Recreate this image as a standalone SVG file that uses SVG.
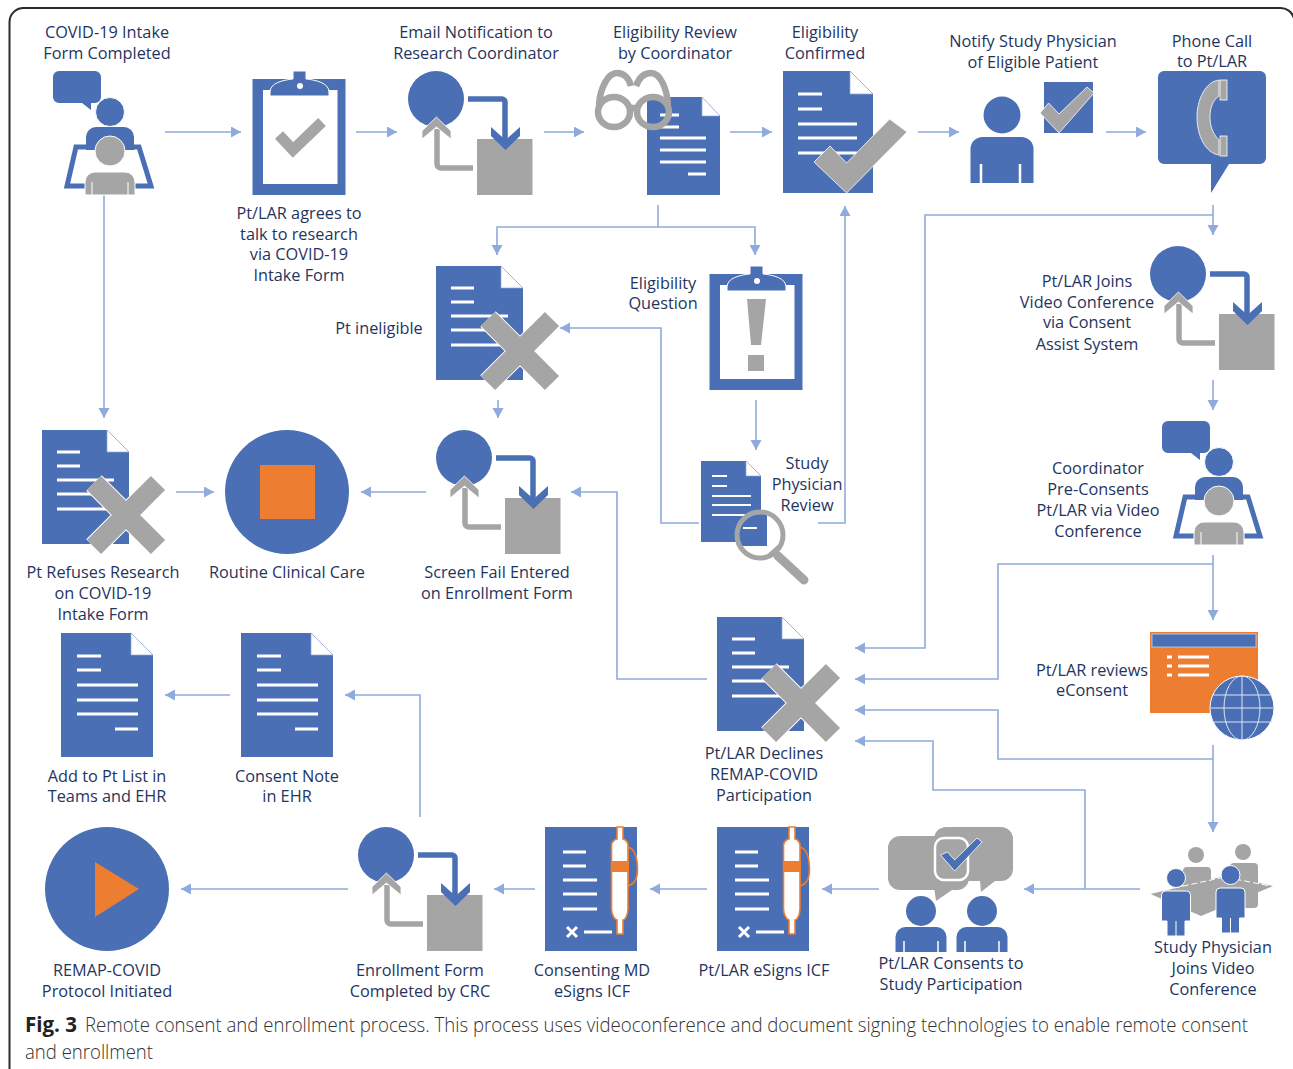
<svg xmlns="http://www.w3.org/2000/svg" width="1293" height="1069" viewBox="0 0 1293 1069">
<style>
.t{font-family:"Open Sans","Noto Sans","Liberation Sans",sans-serif;font-size:16.3px;fill:#1f3560;text-anchor:middle;transform:translateY(.8px)}
.c{font-family:"Open Sans","Noto Sans","Liberation Sans",sans-serif;font-size:20.5px;font-weight:300;fill:#333}
.f{font-family:"Open Sans","Noto Sans","Liberation Sans",sans-serif;font-size:20.5px;font-weight:700;fill:#222}
.b{fill:#4a6fb5}.g{fill:#a5a5a5}.o{fill:#ed7d31}
.w{stroke:#fff;stroke-linecap:butt;fill:none}
#conn path{fill:none;stroke:#8faadc;stroke-width:1.6}
</style>
<defs>
<marker id="ah" markerUnits="userSpaceOnUse" markerWidth="12" markerHeight="12" refX="10" refY="5.5" orient="auto"><path d="M0,0L10,5.5L0,11Z" fill="#8faadc"/></marker>
<clipPath id="lens"><circle cx="760" cy="535" r="23"/></clipPath>
<g id="flow">
<rect class="g" x="69" y="68" width="55.5" height="56"/>
<circle class="b" cx="28" cy="28" r="28"/>
<path d="M60,28H94a3,3 0 0 1 3,3V70" fill="none" stroke="#4a6fb5" stroke-width="5.5"/>
<path class="b" d="M83,56L97.5,69L112,56V65L97.5,79L83,65Z"/>
<path d="M65,97H33a4,4 0 0 1-4-4V58" fill="none" stroke="#a5a5a5" stroke-width="5.5"/>
<path class="g" stroke="#fff" stroke-width=".8" d="M28.400,46L43,60V68L28.400,56L14,68V60Z"/>
</g>
<g id="desk">
<path class="b" d="M53,77a6,6 0 0 1 6-6H95a6,6 0 0 1 6,6V97a6,6 0 0 1-6,6H91V110L82,103H59a6,6 0 0 1-6-6Z"/>
<circle class="b" cx="110" cy="112" r="14.500" stroke="#fff" stroke-width="1"/>
<path class="b" d="M86,150V137a10,10 0 0 1 10-10H124a10,10 0 0 1 10,10V150Z"/>
<path d="M76,147H139L151,186H67Z" fill="none" stroke="#4a6fb5" stroke-width="5"/>
<circle class="g" cx="110" cy="151" r="15" stroke="#fff" stroke-width="1"/>
<path class="g" d="M85,195V182a10,10 0 0 1 10-10H125a10,10 0 0 1 10,10V195Z" stroke="#fff" stroke-width="1"/>
<path class="w" d="M92,182V195M128,182V195"/>
</g>
<g id="clip">
<rect class="b" x="252.500" y="79" width="93" height="116"/>
<rect x="263" y="90" width="74.500" height="94" fill="#fff"/>
<path class="b" stroke="#fff" stroke-width="1" d="M270,96V92C270,83 283,80 293,79V71H306V79C316,80 329,83 329,92V96Z"/>
<circle cx="300" cy="86" r="3" fill="#fff"/>
</g>
<g id="doc">
<path class="b" d="M0,0H65L87,22V114H0Z"/>
<path d="M65,0L87,22H65Z" fill="#fff" stroke="#8faadc" stroke-width=".7"/>
<path class="w" stroke-width="3" d="M15,22H38M15,36H38M15,50H72M15,64H72M15,79H72"/>
</g>
<g id="xmark">
<path stroke="#fff" stroke-width="22" d="M-32,-32L32,32M32,-32L-32,32"/>
<path stroke="#a5a5a5" stroke-width="20" d="M-32,-32L32,32M32,-32L-32,32"/>
</g>
<g id="doc2">
<path class="b" d="M0,0H70L92,22V124H0Z"/>
<path d="M70,0L92,22H70Z" fill="#fff" stroke="#8faadc" stroke-width=".7"/>
<path class="w" stroke-width="3" d="M16,23H40M16,37H40M16,52H77M16,67H77M16,81H77M54,96H77"/>
</g>
<g id="sign">
<rect class="b" x="0" y="0" width="92" height="124"/>
<path class="w" stroke-width="3" d="M18,25H41M18,39H41M18,53H52M18,67H52M18,82H52"/>
<path class="w" stroke-width="3" d="M22,100L32,110M32,100L22,110M39,105H67"/>
<path d="M83,20C90,22 92.500,32 92.500,43C92.500,52 90,57 83,59Z" class="b" stroke="#ed7d31" stroke-width="1.600"/>
<path d="M72,0H78V12C80,12 83,15 83,18V82C83,88 80,93 78,93V107H72V93C70,93 66.500,88 66.500,82V18C66.500,15 70,12 72,12Z" fill="#fff" stroke="#ed7d31" stroke-width="1.600"/>
<rect class="o" x="66.500" y="34" width="17" height="11"/>
</g>
<g id="person">
<circle class="b" cx="0" cy="0" r="15"/>
<path class="b" d="M-25.500,41V26a10,10 0 0 1 10-10H15.500a10,10 0 0 1 10,10V41Z"/>
<path class="w" stroke-width="1.500" d="M-17,30V41M17,30V41"/>
</g>
<g id="mini">
<circle class="b" stroke="#fff" cx="0" cy="0" r="9.500"/>
<path class="b" stroke="#fff" d="M-14.500,43V17a4,4 0 0 1 4-4H10.500a4,4 0 0 1 4,4V43H9V58H-9V43Z"/>
<path class="w" d="M0,43V58"/>
</g>
</defs>
<rect width="1293" height="1069" fill="#fff"/>
<path d="M9.500,1070V22a14,14 0 0 1 14-14H1280a14,14 0 0 1 14,10" fill="none" stroke="#2a2a2a" stroke-width="2"/>
<g id="conn">
<path d="M165,132H241" marker-end="url(#ah)"/>
<path d="M356,132H397" marker-end="url(#ah)"/>
<path d="M544,132H584" marker-end="url(#ah)"/>
<path d="M730,132H772" marker-end="url(#ah)"/>
<path d="M918,132H959" marker-end="url(#ah)"/>
<path d="M1106,132H1146" marker-end="url(#ah)"/>
<path d="M104,195V418" marker-end="url(#ah)"/>
<path d="M658,205V227"/>
<path d="M658,227H497V255" marker-end="url(#ah)"/>
<path d="M658,227H755V255" marker-end="url(#ah)"/>
<path d="M756,400V450" marker-end="url(#ah)"/>
<path d="M699,523H661V328H560" marker-end="url(#ah)"/>
<path d="M818,523H845V206" marker-end="url(#ah)"/>
<path d="M1213,205V235" marker-end="url(#ah)"/>
<path d="M1213,215H925V648H855" marker-end="url(#ah)"/>
<path d="M1213,380V410" marker-end="url(#ah)"/>
<path d="M1213,555V620" marker-end="url(#ah)"/>
<path d="M1213,564H998V679H855" marker-end="url(#ah)"/>
<path d="M1213,759H998V710H855" marker-end="url(#ah)"/>
<path d="M1213,745V832" marker-end="url(#ah)"/>
<path d="M1140,889H1024" marker-end="url(#ah)"/>
<path d="M1085,889V790H933V741H855" marker-end="url(#ah)"/>
<path d="M498,400V418" marker-end="url(#ah)"/>
<path d="M426,492H361" marker-end="url(#ah)"/>
<path d="M176,492H214" marker-end="url(#ah)"/>
<path d="M707,679H617V492H571" marker-end="url(#ah)"/>
<path d="M230,695H165" marker-end="url(#ah)"/>
<path d="M420,817V695H345" marker-end="url(#ah)"/>
<path d="M348,889H181" marker-end="url(#ah)"/>
<path d="M535,889H494" marker-end="url(#ah)"/>
<path d="M707,889H650" marker-end="url(#ah)"/>
<path d="M879,889H822" marker-end="url(#ah)"/>
</g>
<g id="n-intake">
<use href="#desk"/>
<text class="t" x="107" y="37">COVID-19 Intake</text><text class="t" x="107" y="58">Form Completed</text>
</g>
<g id="n-agrees">
<use href="#clip"/>
<path d="M279,135L293,150L322,122" fill="none" stroke="#a5a5a5" stroke-width="11"/>
<text class="t" x="299" y="218">Pt/LAR agrees to</text><text class="t" x="299" y="239">talk to research</text><text class="t" x="299" y="259">via COVID-19</text><text class="t" x="299" y="280">Intake Form</text>
</g>
<g id="n-email">
<use href="#flow" x="408" y="71"/>
<text class="t" x="476" y="37">Email Notification to</text><text class="t" x="476" y="58">Research Coordinator</text>
</g>
<g id="n-review">
<path class="b" d="M647,97H702L720,116V195H647Z"/>
<path d="M702,97L720,116H702Z" fill="#fff" stroke="#8faadc" stroke-width=".7"/>
<path class="w" stroke-width="3" d="M660,115H679M660,127H679M660,138H706M660,150H706M660,162H706M688,174H706"/>
<g fill="none" stroke="#a5a5a5" stroke-width="6.500">
<ellipse cx="614" cy="112" rx="16" ry="15"/><ellipse cx="653" cy="112" rx="16" ry="15"/>
<path d="M599,105C600,88 608,73 617,73C624,73 629,78 631,86"/>
<path d="M668,105C667,88 660,73 651,73C644,73 639,78 636,86"/>
<path d="M630,108H637"/>
</g>
<text class="t" x="675" y="37">Eligibility Review</text><text class="t" x="675" y="58">by Coordinator</text>
</g>
<g id="n-confirmed">
<path class="b" d="M783,71H850L873,94V193H783Z"/>
<path d="M850,71L873,94H850Z" fill="#fff" stroke="#8faadc" stroke-width=".7"/>
<path class="w" stroke-width="3" d="M798,94H822M798,109H822M798,124H857M798,138H857M798,153H857"/>
<path class="g" stroke="#fff" stroke-width=".8" d="M814,162L830,146L846.600,163L889.600,119L907,132L846.600,193Z"/>
<text class="t" x="825" y="37">Eligibility</text><text class="t" x="825" y="58">Confirmed</text>
</g>
<g id="n-notify">
<circle class="b" cx="1002" cy="115" r="18.500"/>
<path class="b" d="M970.500,183V149a12,12 0 0 1 12-12H1021.500a12,12 0 0 1 12,12V183Z"/>
<path class="w" stroke-width="2.500" d="M981,164V183M1020,164V183"/>
<rect class="b" x="1044" y="82" width="49" height="51"/>
<path class="g" stroke="#fff" stroke-width=".8" d="M1040,113L1048.600,103L1059,114L1087,87L1094,93L1059,133Z"/>
<text class="t" x="1033" y="46">Notify Study Physician</text><text class="t" x="1033" y="67">of Eligible Patient</text>
</g>
<g id="n-phone">
<path class="b" d="M1158,77a6,6 0 0 1 6-6H1260a6,6 0 0 1 6,6V158a6,6 0 0 1-6,6H1229L1211,193V164H1164a6,6 0 0 1-6-6Z"/>
<path class="g" stroke="#fff" stroke-width=".8" d="M1219,80C1205,82 1197,100 1197,117C1197,135 1205,153 1219,155V140C1212,133 1210,125 1210,117C1210,109 1212,101 1219,96Z"/>
<rect class="g" stroke="#fff" stroke-width=".8" x="1220" y="80" width="7" height="20"/>
<rect class="g" stroke="#fff" stroke-width=".8" x="1220" y="136" width="7" height="20"/>
<text class="t" x="1212" y="46">Phone Call</text><text class="t" x="1212" y="66">to Pt/LAR</text>
</g>
<g id="n-ineligible">
<use href="#doc" x="436" y="266"/>
<use href="#xmark" x="520" y="351"/>
<text class="t" x="379" y="333">Pt ineligible</text>
</g>
<g id="n-question">
<use href="#clip" x="457" y="195"/>
<path class="g" d="M747,299H766L761,345H751Z"/><rect class="g" x="748" y="355" width="16" height="16"/>
<text class="t" x="663" y="288">Eligibility</text><text class="t" x="663" y="308">Question</text>
</g>
<g id="n-physician-review">
<path class="b" d="M701,461H746L761,476V542H701Z"/>
<path d="M746,461L761,476H746Z" fill="#fff" stroke="#8faadc" stroke-width=".7"/>
<path class="w" stroke-width="2" d="M712,476H727M712,486H727M712,496H751M712,505H751M712,515H751"/>
<circle cx="760" cy="535" r="23" fill="#fff"/>
<rect class="b" x="735" y="510" width="32" height="36" clip-path="url(#lens)"/>
<path class="w" stroke-width="2" d="M743,528H757"/>
<circle cx="760" cy="535" r="23" fill="none" stroke="#a5a5a5" stroke-width="5"/>
<path d="M769,556L779,547" stroke="#a5a5a5" stroke-width="5" fill="none"/>
<path d="M778,556L804,580" stroke="#a5a5a5" stroke-width="9" stroke-linecap="round" fill="none"/>
<text class="t" x="807" y="468">Study</text><text class="t" x="807" y="489">Physician</text><text class="t" x="807" y="510">Review</text>
</g>
<g id="n-joins">
<use href="#flow" x="1150" y="246"/>
<text class="t" x="1087" y="286">Pt/LAR Joins</text><text class="t" x="1087" y="307">Video Conference</text><text class="t" x="1087" y="327">via Consent</text><text class="t" x="1087" y="349">Assist System</text>
</g>
<g id="n-refuses">
<use href="#doc" x="42" y="430"/>
<use href="#xmark" x="126" y="515"/>
<text class="t" x="103" y="577">Pt Refuses Research</text><text class="t" x="103" y="598">on COVID-19</text><text class="t" x="103" y="619">Intake Form</text>
</g>
<g id="n-routine">
<circle class="b" cx="287" cy="492" r="62"/><rect class="o" x="260" y="465" width="55" height="54"/>
<text class="t" x="287" y="577">Routine Clinical Care</text>
</g>
<g id="n-screenfail">
<use href="#flow" x="436" y="430"/>
<text class="t" x="497" y="577">Screen Fail Entered</text><text class="t" x="497" y="598">on Enrollment Form</text>
</g>
<g id="n-preconsent">
<use href="#desk" x="1109" y="350"/>
<text class="t" x="1098" y="473">Coordinator</text><text class="t" x="1098" y="494">Pre-Consents</text><text class="t" x="1098" y="515">Pt/LAR via Video</text><text class="t" x="1098" y="536">Conference</text>
</g>
<g id="n-addlist">
<use href="#doc2" x="61" y="633"/>
<text class="t" x="107" y="781">Add to Pt List in</text><text class="t" x="107" y="801">Teams and EHR</text>
</g>
<g id="n-note">
<use href="#doc2" x="241" y="633"/>
<text class="t" x="287" y="781">Consent Note</text><text class="t" x="287" y="801">in EHR</text>
</g>
<g id="n-declines">
<use href="#doc" x="717" y="617"/>
<use href="#xmark" x="801" y="703"/>
<text class="t" x="764" y="758">Pt/LAR Declines</text><text class="t" x="764" y="779">REMAP-COVID</text><text class="t" x="764" y="800">Participation</text>
</g>
<g id="n-econsent">
<rect class="o" x="1150" y="632" width="108" height="81"/>
<rect class="b" x="1152" y="634" width="104" height="13" stroke="#c9d4ea" stroke-width=".8"/>
<path class="w" stroke-width="3.200" d="M1167,657H1172M1178,657H1209M1167,666H1172M1178,666H1209M1167,675H1172M1178,675H1209"/>
<circle class="b" cx="1242" cy="708" r="32" stroke="#fff" stroke-width="1"/>
<g fill="none" stroke="#dfe6f3" stroke-width="1"><ellipse cx="1242" cy="708" rx="18" ry="32"/><path d="M1242,676V740M1212,695H1272M1211,708H1273M1212,722H1272"/></g>
<text class="t" x="1092" y="675">Pt/LAR reviews</text><text class="t" x="1092" y="695">eConsent</text>
</g>
<g id="n-remap">
<circle class="b" cx="107" cy="889" r="62"/><path class="o" d="M95,862L139,889L95,917Z"/>
<text class="t" x="107" y="975">REMAP-COVID</text><text class="t" x="107" y="996">Protocol Initiated</text>
</g>
<g id="n-enrollform">
<use href="#flow" x="358" y="827"/>
<text class="t" x="420" y="975">Enrollment Form</text><text class="t" x="420" y="996">Completed by CRC</text>
</g>
<g id="n-mdsign">
<use href="#sign" x="545" y="827"/>
<text class="t" x="592" y="975">Consenting MD</text><text class="t" x="592" y="996">eSigns ICF</text>
</g>
<g id="n-ptsign">
<use href="#sign" x="717" y="827"/>
<text class="t" x="764" y="975">Pt/LAR eSigns ICF</text>
</g>
<g id="n-consents">
<path class="g" d="M888,848a12,12 0 0 1 12-12H957a12,12 0 0 1 12,12V878a12,12 0 0 1-12,12H952L936,901L934.500,890H900a12,12 0 0 1-12-12Z"/>
<path class="g" d="M934,839a12,12 0 0 1 12-12H1001a12,12 0 0 1 12,12V869a12,12 0 0 1-12,12H995L981,892L980,881H946a12,12 0 0 1-12-12Z"/>
<rect x="935" y="838" width="33" height="42" rx="9" fill="none" stroke="#fff" stroke-width="2.500"/>
<path class="b" stroke="#fff" stroke-width=".8" d="M940.600,855L947.500,852L954.700,860L977,838L982,842L954.700,871Z"/>
<use href="#person" x="921" y="911"/><use href="#person" x="982" y="911"/>
<text class="t" x="951" y="968">Pt/LAR Consents to</text><text class="t" x="951" y="989">Study Participation</text>
</g>
<g id="n-video">
<circle class="g" cx="1196" cy="855" r="8"/><circle class="g" cx="1243" cy="852" r="8"/>
<rect class="g" x="1183" y="867" width="28" height="33" rx="4"/><rect class="g" x="1230" y="863" width="28" height="45" rx="4"/>
<path class="g" d="M1150.500,894L1225,876L1273,886L1201,916Z"/>
<path d="M1165,890L1225,877L1270,886" fill="none" stroke="#fff" stroke-width="1" stroke-dasharray="6 3"/>
<use href="#mini" x="1176" y="878"/><use href="#mini" x="1230.500" y="875"/>
<text class="t" x="1213" y="952">Study Physician</text><text class="t" x="1213" y="973">Joins Video</text><text class="t" x="1213" y="994">Conference</text>
</g>
<g id="caption">
<text class="f" x="25" y="1032">Fig. 3</text>
<text class="c" transform="translate(85,1032) scale(.88,1)" textLength="1321.600" lengthAdjust="spacingAndGlyphs">Remote consent and enrollment process. This process uses videoconference and document signing technologies to enable remote consent</text>
<text class="c" transform="translate(25,1059) scale(.88,1)" textLength="145.500" lengthAdjust="spacingAndGlyphs">and enrollment</text>
</g>
</svg>
